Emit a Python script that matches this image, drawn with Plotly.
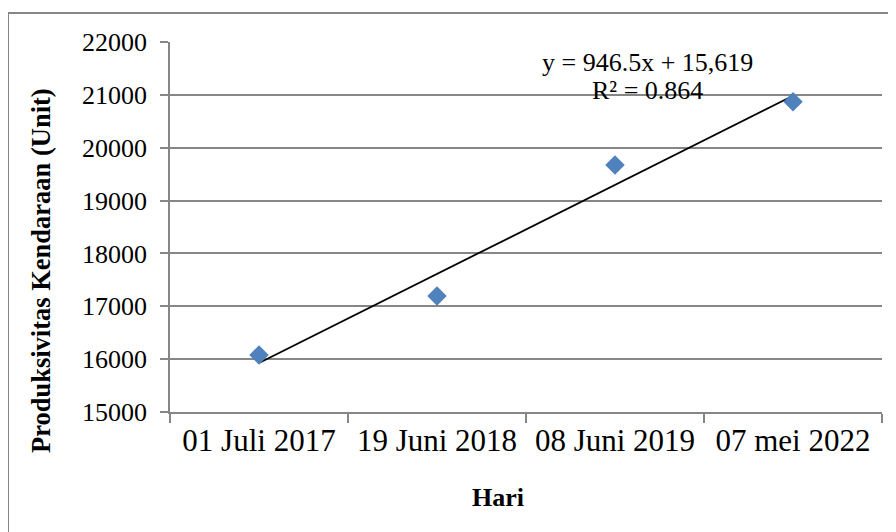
import numpy as np
import plotly.graph_objects as go

categories = ["01 Juli 2017", "19 Juni 2018", "08 Juni 2019", "07 mei 2022"]
produksivitas = [16080, 17195, 19675, 20870]
y_ticks = [15000, 16000, 17000, 18000, 19000, 20000, 21000, 22000]
y_tick_labels = ["15000", "16000", "17000", "18000", "19000", "20000", "21000", "22000"]
equation_text = "y = 946.5x + 15,619"
r2_text = "R² = 0.864"

# linear trendline fitted on category index 1..n
idx = np.arange(1, len(categories) + 1)
slope, intercept = np.polyfit(idx, produksivitas, 1)
trend_y = [slope * idx[0] + intercept, slope * idx[-1] + intercept]

FONT = "Liberation Serif, Times New Roman, serif"
GRAY = "#868686"

OFF = 8  # page body margin
W, H = 896 - OFF, 532 - OFF
# plot area in page pixels: x 170..882, y 42..412
L = 170 - OFF
T = 42 - OFF
R = W - (882 - OFF)
B = H - (412 - OFF)
pw, ph = W - L - R, H - T - B

def px(x):
    return (x - OFF - L) / pw

def py(y):
    return (H - B - (y - OFF)) / ph

fig = go.Figure()
fig.add_trace(go.Scatter(
    x=[categories[0], categories[-1]], y=trend_y, mode="lines",
    line=dict(color="black", width=1.8), hoverinfo="skip", showlegend=False))
fig.add_trace(go.Scatter(
    x=categories, y=produksivitas, mode="markers",
    marker=dict(symbol="diamond", size=15, color="#4F81BD"),
    showlegend=False))

fig.update_layout(
    width=W, height=H,
    margin=dict(l=L, r=R, t=T, b=B, autoexpand=False),
    paper_bgcolor="white", plot_bgcolor="white",
    font=dict(family=FONT, size=26, color="black"),
    xaxis=dict(type="category", categoryorder="array", categoryarray=categories,
               range=[-0.5, 3.5], tickson="boundaries", automargin=False,
               ticks="outside", ticklen=9, tickcolor=GRAY, tickwidth=1.5,
               showline=True, linecolor=GRAY, linewidth=1.5, showgrid=False,
               zeroline=False, tickfont=dict(size=31), ticklabelstandoff=0),
    yaxis=dict(range=[15000, 22000], tickvals=y_ticks, ticktext=y_tick_labels,
               ticks="outside", automargin=False,
               ticklen=8, tickcolor=GRAY, tickwidth=1.5, showline=True,
               linecolor=GRAY, linewidth=1.5, showgrid=True, gridcolor=GRAY,
               gridwidth=1.5, zeroline=False, tickfont=dict(size=26),
               ticklabelstandoff=8),
    shapes=[
        dict(type="line", xref="paper", yref="paper", x0=px(8), x1=px(910),
             y0=py(13), y1=py(13), line=dict(color=GRAY, width=2)),
        dict(type="line", xref="paper", yref="paper", x0=px(8), x1=px(8),
             y0=py(13), y1=py(545), line=dict(color=GRAY, width=2)),
    ],
    annotations=[
        dict(text=equation_text, xref="paper", yref="paper", x=px(647), y=py(62),
             xanchor="center", yanchor="middle", showarrow=False, font=dict(size=26)),
        dict(text=r2_text, xref="paper", yref="paper", x=px(647), y=py(90),
             xanchor="center", yanchor="middle", showarrow=False, font=dict(size=26)),
        dict(text="<b>Produksivitas Kendaraan (Unit)</b>", xref="paper", yref="paper",
             x=px(41), y=py(271), xanchor="center", yanchor="middle",
             textangle=-90, showarrow=False, font=dict(size=26.5)),
        dict(text="<b>Hari</b>", xref="paper", yref="paper", x=px(498), y=py(497),
             xanchor="center", yanchor="middle", showarrow=False, font=dict(size=26)),
    ],
)

fig.write_html("out.html")
